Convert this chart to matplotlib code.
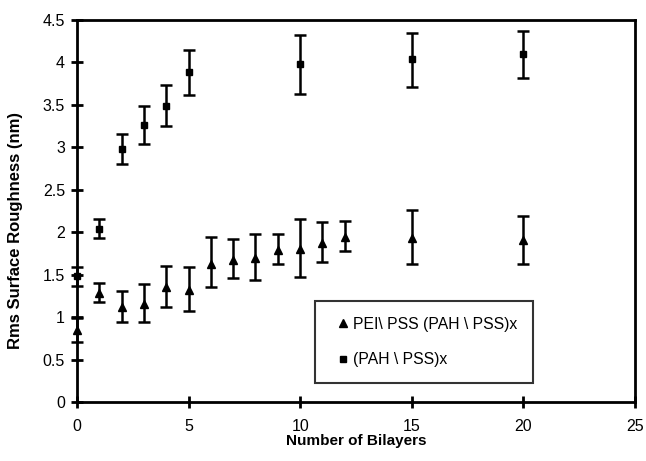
import matplotlib
matplotlib.use("Agg")
import matplotlib.pyplot as plt

plt.rcParams['font.family'] = ['Liberation Sans', 'DejaVu Sans']

# PEI\PSS (PAH\PSS)x  -- triangles
tri_x = [0, 1, 2, 3, 4, 5, 6, 7, 8, 9, 10, 11, 12, 15, 20]
tri_y = [0.85, 1.28, 1.12, 1.15, 1.35, 1.32, 1.63, 1.67, 1.69, 1.79, 1.80, 1.87, 1.94, 1.93, 1.91]
tri_lo = [0.71, 1.18, 0.94, 0.94, 1.12, 1.07, 1.35, 1.46, 1.44, 1.63, 1.47, 1.65, 1.78, 1.63, 1.63]
tri_hi = [0.99, 1.40, 1.31, 1.39, 1.60, 1.59, 1.94, 1.92, 1.98, 1.98, 2.16, 2.12, 2.13, 2.26, 2.19]

# (PAH\PSS)x  -- squares
sq_x = [0, 1, 2, 3, 4, 5, 10, 15, 20]
sq_y = [1.48, 2.04, 2.98, 3.26, 3.49, 3.89, 3.98, 4.04, 4.10]
sq_lo = [1.36, 1.93, 2.80, 3.04, 3.25, 3.62, 3.63, 3.71, 3.81]
sq_hi = [1.59, 2.15, 3.15, 3.49, 3.73, 4.15, 4.32, 4.35, 4.37]

xticks = [0, 5, 10, 15, 20, 25]
yticks = [0, 0.5, 1, 1.5, 2, 2.5, 3, 3.5, 4, 4.5]
ytick_labels = ['0', '0.5', '1', '1.5', '2', '2.5', '3', '3.5', '4', '4.5']


def errs(y, lo, hi):
    return [[a - b for a, b in zip(y, lo)], [c - a for a, c in zip(y, hi)]]


fig = plt.figure(figsize=(6.46, 4.61), dpi=100)
ax = fig.add_axes([0.119, 0.128, 0.864, 0.829])

ax.errorbar(tri_x, tri_y, yerr=errs(tri_y, tri_lo, tri_hi), fmt='^', color='black',
            ms=6, elinewidth=1.8, capsize=4, capthick=1.8,
            label='PEI\\ PSS (PAH \\ PSS)x', clip_on=False, zorder=3)
ax.errorbar(sq_x, sq_y, yerr=errs(sq_y, sq_lo, sq_hi), fmt='s', color='black',
            ms=5, elinewidth=1.8, capsize=4, capthick=1.8,
            label='(PAH \\ PSS)x', clip_on=False, zorder=3)

ax.set_xlim(0, 25)
ax.set_ylim(0, 4.5)
ax.set_xticks(xticks)
ax.set_yticks(yticks)
ax.set_yticklabels(ytick_labels)
ax.tick_params(direction='inout', length=9, width=2, labelsize=11.5, pad=4)
ax.tick_params(axis='x', pad=8)
for s in ax.spines.values():
    s.set_linewidth(2)

ax.set_xlabel('Number of Bilayers', fontsize=11, fontweight='bold', labelpad=0)
ax.set_ylabel('Rms Surface Roughness (nm)', fontsize=12, fontweight='bold')
ax.yaxis.set_label_coords(-0.097, 0.45)

handles, labels = ax.get_legend_handles_labels()
handles = [h[0] for h in handles]
leg = ax.legend(handles, labels, loc='lower left', bbox_to_anchor=(0.4265, 0.05),
                frameon=True, fancybox=False, edgecolor='black', fontsize=11.3,
                handlelength=1.6, handletextpad=-0.2, borderpad=1.0, labelspacing=1.3,
                markerscale=0.9, borderaxespad=0)
leg.get_frame().set_linewidth(1.5)

fig.savefig('out.png', dpi=100)
